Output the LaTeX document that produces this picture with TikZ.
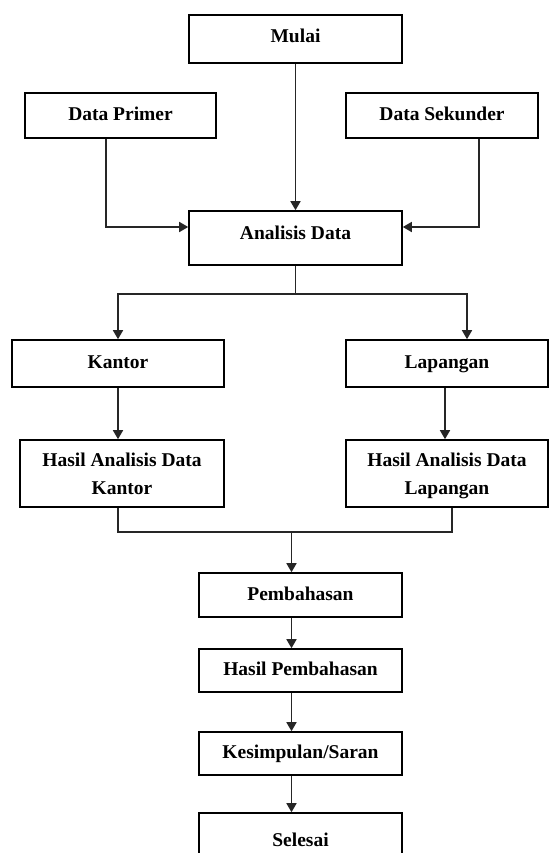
\documentclass[tikz,border=0pt]{standalone}
\usepackage{fontspec}
\setmainfont{Liberation Serif}
\usetikzlibrary{arrows.meta,calc}
\begin{document}
\begin{tikzpicture}[x=1pt,y=-1pt,
  box/.style={draw=black,line width=1.6pt,rectangle,inner sep=0pt,align=center,
    font=\fontsize{19.5}{28}\selectfont\bfseries},
  one/.style={text height=14pt,text depth=4pt},
  conn/.style={line width=1.6pt,draw=black!85},
  arr/.style={conn,-{Triangle[length=9pt,width=10pt]}}]
\useasboundingbox (0,0) rectangle (549,853);
\clip (0,0) rectangle (549,853);
\fill[white] (0,0) rectangle (549,853);
% boxes
\node[box,one,text depth=7pt,minimum width=213pt,minimum height=48pt] (mulai) at (295.5,39) {Mulai};
\node[box,one,minimum width=191pt,minimum height=45pt] (primer) at (120.5,115.5) {Data Primer};
\node[box,one,minimum width=192pt,minimum height=45pt] (sekunder) at (442,115.5) {Data Sekunder};
\node[box,one,text depth=12pt,minimum width=213pt,minimum height=54pt] (analisis) at (295.5,238) {Analisis Data};
\node[box,one,minimum width=212pt,minimum height=47pt] (kantor) at (118,363.5) {Kantor};
\node[box,one,minimum width=202pt,minimum height=47pt] (lapangan) at (447,363.5) {Lapangan};
\node[box,minimum width=204pt,minimum height=67pt] (hkantor) at (122,473.5) {Hasil Analisis Data\\Kantor};
\node[box,minimum width=202pt,minimum height=67pt] (hlapangan) at (447,473.5) {Hasil Analisis Data\\\smash{Lapangan}};
\node[box,one,minimum width=203pt,minimum height=44pt] (pembahasan) at (300.5,595) {Pembahasan};
\node[box,one,minimum width=203pt,minimum height=43pt] (hasilp) at (300.5,670.5) {Hasil Pembahasan};
\node[box,one,minimum width=203pt,minimum height=43pt] (kesimpulan) at (300.5,753.5) {Kesimpulan/Saran};
\node[box,one,minimum width=203pt,minimum height=56pt] (selesai) at (300.5,841) {Selesai};
% junctions
\coordinate (j1) at (295.5,294);
\coordinate (j2) at (291.5,532);
% connectors
\draw[arr] (mulai.south) -- (analisis.north);
\draw[arr] ([xshift=-14.5pt]primer.south) |- ([yshift=11pt]analisis.west);
\draw[arr] ([xshift=37pt]sekunder.south) |- ([yshift=11pt]analisis.east);
\draw[conn] (analisis.south) -- (j1);
\draw[arr] (j1) -| (kantor.north);
\draw[arr] (j1) -| ([xshift=20pt]lapangan.north);
\draw[arr] (kantor.south) -- (kantor.south |- hkantor.north);
\draw[arr] ([xshift=-2pt]lapangan.south) -- ([xshift=-2pt]lapangan.south |- hlapangan.north);
\draw[conn] ([xshift=-4pt]hkantor.south) |- (j2);
\draw[conn] ([xshift=5pt]hlapangan.south) |- (j2);
\draw[arr] (j2) -- (j2 |- pembahasan.north);
\draw[arr] (j2 |- pembahasan.south) -- (j2 |- hasilp.north);
\draw[arr] (j2 |- hasilp.south) -- (j2 |- kesimpulan.north);
\draw[arr] (j2 |- kesimpulan.south) -- (j2 |- selesai.north);
\end{tikzpicture}
\end{document}
